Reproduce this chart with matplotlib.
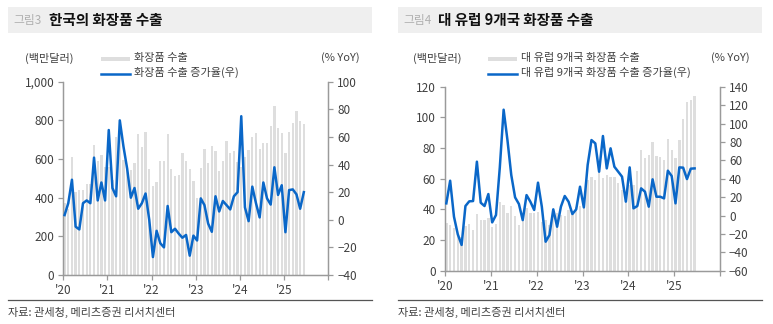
import matplotlib
matplotlib.use('Agg')
import matplotlib.pyplot as plt
from matplotlib.patches import Rectangle
from matplotlib.lines import Line2D
from matplotlib.ticker import FuncFormatter
import numpy as np

plt.rcParams['font.family'] = ['Noto Sans CJK KR', 'DejaVu Sans']

# ---- data (monthly, Jan 2020 ~ Jun 2025) ----
years = ["'20", "'21", "'22", "'23", "'24", "'25"]

kr_exports = [370, 340, 610, 430, 440, 440, 470, 470, 672, 590, 620, 560,
              560, 490, 715, 760, 595, 545, 545, 580, 728, 660, 738, 550,
              460, 480, 590, 590, 730, 547, 510, 518, 630, 590, 547, 486,
              397, 555, 653, 577, 667, 641, 540, 591, 693, 633, 641, 586,
              560, 608, 647, 716, 736, 652, 684, 684, 772, 874, 762, 736,
              629, 740, 788, 850, 798, 780]
kr_yoy = [3.4, 12, 29, -5, -7, 12, 14, 12, 45, 14, 27, 14,
          65, 23, 17, 72, 53, 37, 16, 23, 8, 12, 19, 0,
          -27, -8, -17, -20, 10, -9, -6.5, -10, -13, -11, -26, -11.5,
          -15, 15.5, 10.6, -2.7, -8.7, 17, 6, 13.6, 10.6, 7.5, 17, 20,
          75, 9, -1, 24, 12, 1.7, 27, 15.5, 11, 38, 18, 25,
          -9, 21.5, 22, 18.4, 8, 20]

eu_exports = [30.9, 29.6, 27.6, 24, 22, 29.1, 30.2, 26.5, 36.7, 33, 33, 34.3,
              28.7, 30.4, 44.8, 42.8, 37.4, 42.2, 35.9, 29.8, 33.5, 40.7, 37.8, 37.4,
              38.5, 32, 33, 30, 35.2, 37.4, 36.3, 35.7, 39.6, 38.9, 41.3, 42.2,
              45, 59, 60.9, 59, 69, 60.2, 62.4, 61.3, 60.9, 57, 52.6, 43.9,
              56, 55.9, 65.2, 78.7, 73.7, 75.4, 83.9, 74.8, 73.9, 72.2, 85.7, 78.7,
              73.7, 85.2, 98.9, 110, 111.3, 114]
eu_yoy = [13.2, 37.8, -1.3, -20.5, -32, 10.3, 15.4, 15.7, 58.5, 13.9, 10.3, 23.3,
          -7.5, 0.5, 52.3, 115, 82, 44, 19.7, 12.5, -5, 22.2, 15, 6,
          35.7, 9.6, -28.5, -21.2, 6.7, -12.2, 9.6, 21.2, 15, 1.6, 6.7, 31.3,
          8.8, 54.9, 82, 78.4, 47.6, 86.4, 51.2, 73, 53, 47.6, 42.2, 15,
          52.3, 7.8, 10.3, 29.5, 25.9, 9.6, 39.3, 20.4, 20.4, 18.6, 48.7, 42.9,
          13.2, 52.3, 52, 39.6, 50.9, 51.2]

W, H = 773, 324
BAR_C = '#dedede'
LINE_C = '#0a67c8'
AX_C = '#9a9a9a'
TXT_C = '#404040'


def fx(x):
    return x / W


def fy(y):
    return 1 - y / H


def drawPanel(fig, box, tag, title, barLabel, lineLabel, bars, yoy,
              lyl, lyt, ryl, ryt, lfmt, x0, x1, ofs):
    # header band
    fig.add_artist(Rectangle((fx(x0), fy(33)), fx(x1 - x0), 26 / H,
                             transform=fig.transFigure, color='#efefef', lw=0))
    fig.text(fx(x0 + 5), fy(20.5), tag, fontsize=8.5, color='#b0b0b0', va='center')
    fig.text(fx(x0 + ofs), fy(20.5), title, fontsize=10.5, weight='bold',
             color='#111111', va='center')

    # legend (manual)
    lx = box[4]
    fig.add_artist(Rectangle((fx(lx), fy(61)), fx(29), 4 / H,
                             transform=fig.transFigure, color=BAR_C, lw=0))
    fig.text(fx(lx + 33), fy(58), barLabel, fontsize=8, color=TXT_C, va='center')
    fig.add_artist(Line2D([fx(lx), fx(lx + 29)], [fy(73.5), fy(73.5)],
                          transform=fig.transFigure, color=LINE_C, lw=1.8))
    fig.text(fx(lx + 33), fy(72.5), lineLabel, fontsize=8, color=TXT_C, va='center')

    fig.text(fx(box[5]), fy(58), '(백만달러)', fontsize=8, color=TXT_C, va='center')
    fig.text(fx(box[6]), fy(58), '(% YoY)', fontsize=8, color=TXT_C,
             va='center', ha='right')

    # axes
    left, top, right, bottom = box[0], box[1], box[2], box[3]
    ax = fig.add_axes([fx(left), fy(bottom), fx(right - left), (bottom - top) / H])
    ax2 = ax.twinx()

    idx = np.arange(len(bars)) + 0.35
    ax.bar(idx, bars, width=0.62, color=BAR_C, zorder=1)
    ax2.plot(idx, yoy, color=LINE_C, lw=1.8, zorder=3)

    ax.set_xlim(0, 72)
    ax.set_ylim(*lyl)
    ax.set_yticks(lyt)
    ax.yaxis.set_major_formatter(FuncFormatter(lfmt))
    ax2.set_ylim(*ryl)
    ax2.set_yticks(ryt)
    ax.set_xticks([0, 12, 24, 36, 48, 60, 72])
    ax.set_xticklabels(years + [''])

    for a in (ax, ax2):
        a.spines['top'].set_visible(False)
        for s in ('left', 'right', 'bottom'):
            a.spines[s].set_color(AX_C)
            a.spines[s].set_linewidth(0.9)
        a.tick_params(colors=AX_C, labelcolor=TXT_C, labelsize=8.5,
                      length=3.5, width=0.9, pad=3)
    ax.patch.set_visible(False)
    return ax, ax2


fig = plt.figure(figsize=(W / 100, H / 100), dpi=100)

drawPanel(fig, (63.3, 81.7, 328.3, 275, 100.5, 25, 360),
          '그림3', '한국의 화장품 수출', '화장품 수출', '화장품 수출 증가율(우)',
          kr_exports, kr_yoy, (0, 1000), range(0, 1001, 200),
          (-40, 100), range(-40, 101, 20),
          lambda v, p: f'{int(v):,}', 8, 372, 41)

drawPanel(fig, (445, 86.7, 720, 270.7, 488.3, 413, 750),
          '그림4', '대 유럽 9개국 화장품 수출', '대 유럽 9개국 화장품 수출',
          '대 유럽 9개국 화장품 수출 증가율(우)',
          eu_exports, eu_yoy, (0, 120), range(0, 121, 20),
          (-60, 140), range(-60, 141, 20),
          lambda v, p: f'{int(v)}', 398, 762, 40)

# source lines
for x0, x1 in ((8, 372), (398, 762)):
    fig.add_artist(Line2D([fx(x0), fx(x1)], [fy(299.5), fy(299.5)],
                          transform=fig.transFigure, color='#555555', lw=0.9))
    fig.text(fx(x0), fy(312.5), '자료: 관세청, 메리츠증권 리서치센터', fontsize=8,
             color=TXT_C, va='center')

fig.savefig('out.png', dpi=100)
